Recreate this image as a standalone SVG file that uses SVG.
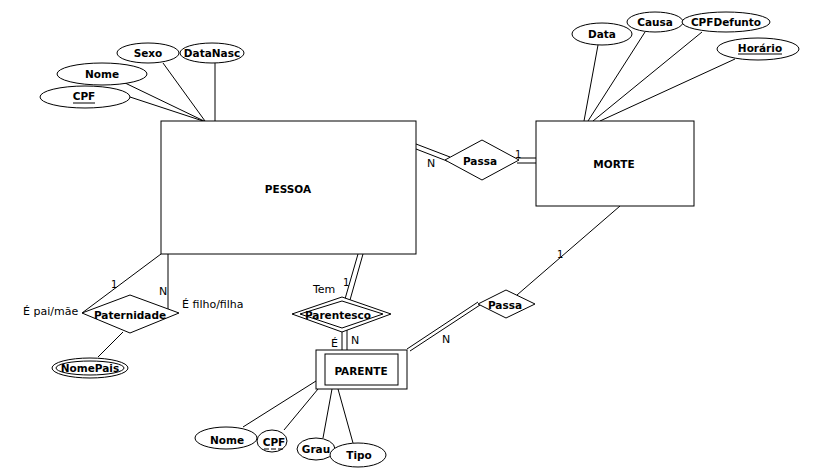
<svg xmlns="http://www.w3.org/2000/svg" width="816" height="475" viewBox="0 0 816 475">
<style>
.s{fill:#fff;stroke:#000;stroke-width:1}
.n{fill:none;stroke:#000;stroke-width:1}
.b{font-family:"DejaVu Sans","Liberation Sans",sans-serif;font-weight:bold;font-size:10.5px;fill:#000;text-anchor:middle}
.r{font-family:"DejaVu Sans","Liberation Sans",sans-serif;font-size:11px;fill:#000}
.c{font-family:"DejaVu Sans","Liberation Sans",sans-serif;font-size:10px;fill:#000}
</style>
<rect width="816" height="475" fill="#fff"/>
<g id="connectors" class="n">
<line x1="123" y1="82" x2="204" y2="121"/>
<line x1="130" y1="97" x2="203" y2="121"/>
<line x1="163" y1="63" x2="205" y2="121"/>
<line x1="215" y1="63" x2="215" y2="121"/>
<line x1="598" y1="45" x2="584" y2="121"/>
<line x1="645" y1="32" x2="588" y2="121"/>
<line x1="702" y1="32" x2="593" y2="121"/>
<line x1="735" y1="59" x2="600" y2="121"/>
<line x1="416" y1="144" x2="450" y2="157"/>
<line x1="416" y1="149" x2="447" y2="161"/>
<line x1="518" y1="158" x2="536" y2="158"/>
<line x1="517" y1="163" x2="536" y2="163"/>
<line x1="161" y1="254" x2="82" y2="313"/>
<polyline points="168,254 168,309"/>
<line x1="123" y1="332" x2="98" y2="357"/>
<line x1="358" y1="254" x2="345" y2="299"/>
<line x1="363" y1="254" x2="350" y2="300"/>
<line x1="342" y1="331" x2="342" y2="350"/>
<line x1="347" y1="330" x2="347" y2="350"/>
<line x1="620" y1="206" x2="517" y2="295"/>
<line x1="478" y1="302" x2="407" y2="349"/>
<line x1="480" y1="305" x2="410" y2="351"/>
<line x1="243" y1="427" x2="316" y2="381"/>
<line x1="284" y1="430" x2="318" y2="389"/>
<line x1="323" y1="438" x2="332" y2="389"/>
<line x1="353" y1="443" x2="338" y2="389"/>
</g>
<g id="pessoa"><rect class="s" x="161" y="121" width="255" height="133"/><text class="b" x="288" y="193">PESSOA</text></g>
<g id="morte"><rect class="s" x="536" y="121" width="158" height="85"/><text class="b" x="614" y="168">MORTE</text></g>
<g id="parente"><rect class="s" x="316" y="350" width="91" height="39"/><rect class="s" x="325" y="354" width="73" height="31"/><text class="b" x="361" y="375">PARENTE</text></g>
<g id="attr-sexo"><ellipse class="s" cx="148" cy="53" rx="31" ry="10"/><text class="b" x="148" y="57">Sexo</text></g>
<g id="attr-datanasc"><ellipse class="s" cx="212" cy="53" rx="32" ry="10"/><text class="b" x="212" y="57">DataNasc</text></g>
<g id="attr-nome"><ellipse class="s" cx="102" cy="74" rx="45" ry="11"/><text class="b" x="102" y="78">Nome</text></g>
<g id="attr-cpf"><ellipse class="s" cx="85" cy="97" rx="45" ry="11"/><text class="b" x="84" y="100">CPF</text><line class="n" x1="73" y1="103" x2="95" y2="103"/></g>
<g id="attr-data"><ellipse class="s" cx="602" cy="34" rx="30" ry="11"/><text class="b" x="602" y="38">Data</text></g>
<g id="attr-causa"><ellipse class="s" cx="655" cy="22" rx="28" ry="10"/><text class="b" x="655" y="26">Causa</text></g>
<g id="attr-cpfdefunto"><ellipse class="s" cx="726" cy="22" rx="44" ry="10"/><text class="b" x="726" y="26">CPFDefunto</text></g>
<g id="attr-horario"><ellipse class="s" cx="758" cy="49" rx="41" ry="11"/><text class="b" x="760" y="52">Horário</text><line class="n" x1="738" y1="54" x2="782" y2="54"/></g>
<g id="rel-passa1"><polygon class="s" points="445,160 482,140 519,160 482,180"/><text class="b" x="480" y="165">Passa</text></g>
<g id="rel-paternidade"><polygon class="s" points="82,313 130,295 179,313 130,333"/><text class="b" x="130" y="319">Paternidade</text></g>
<g id="attr-nomepais"><ellipse class="s" cx="90" cy="368" rx="38" ry="10"/><ellipse class="s" cx="90" cy="368" rx="34" ry="7"/><text class="b" x="90" y="372">NomePais</text></g>
<g id="rel-parentesco"><polygon class="s" points="292,314 342,297 391,314 342,332"/><polygon class="s" points="300,314 342,301 383,314 342,328"/><text class="b" x="338" y="319">Parentesco</text></g>
<g id="rel-passa2"><polygon class="s" points="478,304 506,290 535,304 506,318"/><text class="b" x="505" y="309">Passa</text></g>
<g id="attr-nome2"><ellipse class="s" cx="226" cy="438" rx="31" ry="11"/><text class="b" x="227" y="444">Nome</text></g>
<g id="attr-cpf2"><ellipse class="s" cx="272" cy="441" rx="15" ry="11"/><text class="b" x="274" y="446">CPF</text><line class="n" x1="264" y1="449" x2="285" y2="449" stroke-dasharray="5,2"/></g>
<g id="attr-grau"><ellipse class="s" cx="316" cy="449" rx="19" ry="11"/><text class="b" x="316" y="453">Grau</text></g>
<g id="attr-tipo"><ellipse class="s" cx="358" cy="455" rx="28" ry="12"/><text class="b" x="359" y="459">Tipo</text></g>
<g id="labels">
<text class="r" x="427" y="167">N</text>
<text class="c" x="515" y="158">1</text>
<text class="c" x="111" y="288">1</text>
<text class="r" x="159" y="295">N</text>
<text class="r" x="23" y="315">É pai/mãe</text>
<text class="r" x="182" y="308">É filho/filha</text>
<text class="r" x="313" y="293">Tem</text>
<text class="c" x="343" y="286">1</text>
<text class="r" x="331" y="347">É</text>
<text class="r" x="351" y="344">N</text>
<text class="c" x="557" y="258">1</text>
<text class="r" x="442" y="343">N</text>
</g>
</svg>
